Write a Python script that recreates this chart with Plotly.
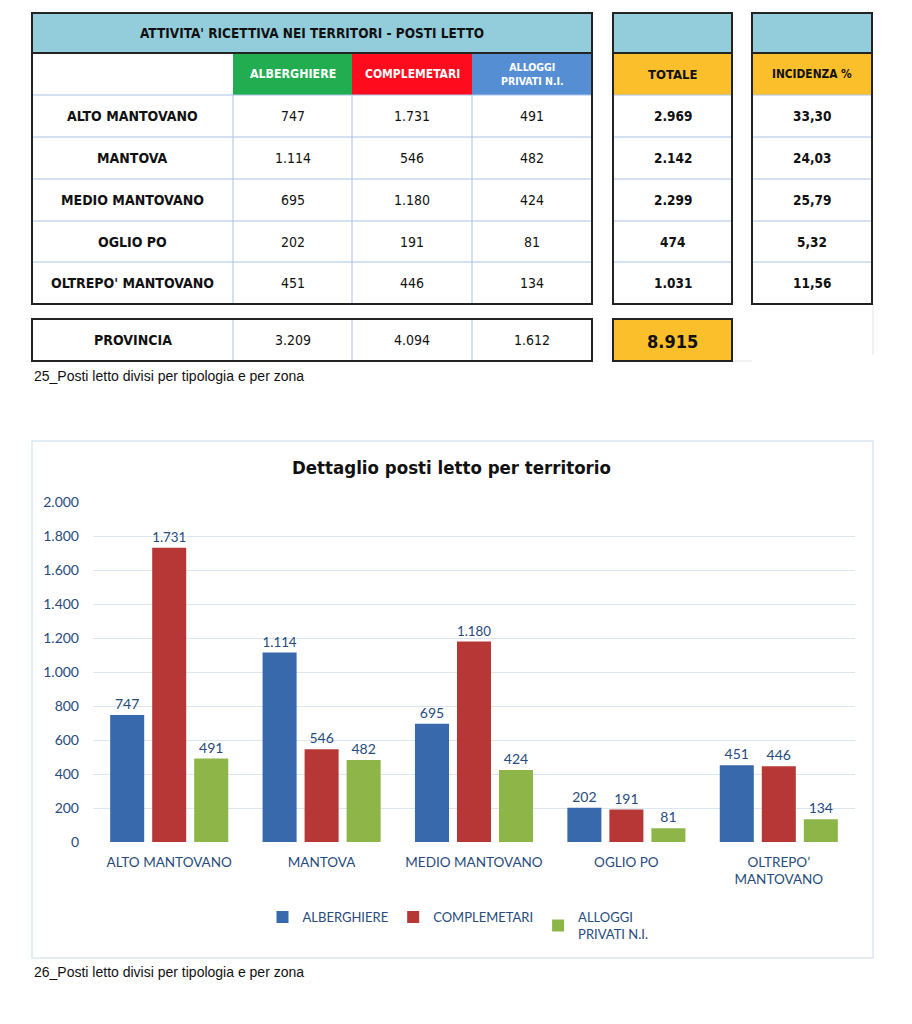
import plotly.graph_objects as go

# ---------------- DATA ----------------
territori = ["ALTO MANTOVANO", "MANTOVA", "MEDIO MANTOVANO", "OGLIO PO", "OLTREPO' MANTOVANO"]
territori_chart = ["ALTO MANTOVANO", "MANTOVA", "MEDIO MANTOVANO", "OGLIO PO", "OLTREPO’<br>MANTOVANO"]
alberghiere = [747, 1114, 695, 202, 451]
complementari = [1731, 546, 1180, 191, 446]
alloggi = [491, 482, 424, 81, 134]
totale = [2969, 2142, 2299, 474, 1031]
incidenza = [33.30, 24.03, 25.79, 5.32, 11.56]
provincia = [3209, 4094, 1612]
provincia_totale = 8915
serie_nomi = ["ALBERGHIERE", "COMPLEMETARI", "ALLOGGI<br>PRIVATI N.I."]
y_ticks = [0, 200, 400, 600, 800, 1000, 1200, 1400, 1600, 1800, 2000]

# ---------------- STYLE ----------------
W, H = 912, 1024
OFF = 8  # page offset of the plot div
NARROW = "DejaVu Sans Condensed, Liberation Sans, sans-serif"
REG = "Liberation Sans, Arial, sans-serif"
CHART_FONT = "Lato, Open Sans, sans-serif"
LBL = "#274B7A"
C_BLUE, C_RED, C_GREEN = "#3769AC", "#B73737", "#8DB548"
HDR_BLUE = "#93CDDC"
DARK = "#232323"
INNER = "#A9C3E5"


def px(x):
    return (x - OFF) / W


def py(y):
    return 1 - (y - OFF) / H


def fmt(v):
    return f"{v:,}".replace(",", ".")


def fmt_pct(v):
    return f"{v:.2f}".replace(".", ",")


shapes = []
annots = []


def rect(x0, y0, x1, y1, fill=None, line=None, lw=0, layer="above"):
    shapes.append(dict(type="rect", xref="paper", yref="paper",
                       x0=px(x0), x1=px(x1), y0=py(y1), y1=py(y0),
                       fillcolor=fill if fill else "rgba(0,0,0,0)",
                       line=dict(color=line if line else "rgba(0,0,0,0)", width=lw),
                       layer=layer))


def hline(x0, x1, y, color, lw=1):
    shapes.append(dict(type="line", xref="paper", yref="paper",
                       x0=px(x0), x1=px(x1), y0=py(y), y1=py(y),
                       line=dict(color=color, width=lw)))


def vline(x, y0, y1, color, lw=1):
    shapes.append(dict(type="line", xref="paper", yref="paper",
                       x0=px(x), x1=px(x), y0=py(y0), y1=py(y1),
                       line=dict(color=color, width=lw)))


def text(x, y, s, size=14, color="#111111", family=NARROW, bold=False, xanchor="center"):
    if bold:
        s = f"<b>{s}</b>"
    annots.append(dict(xref="paper", yref="paper", x=px(x), y=py(y), text=s,
                       showarrow=False, xanchor=xanchor, yanchor="middle",
                       font=dict(size=size, color=color, family=family)))


# ---------------- TABLE ----------------
cols = [32, 233, 352, 472, 592]
tot_blk = [613, 732]
inc_blk = [752, 872]
rows = [13, 53, 95, 137, 179, 221, 262, 304]
prov_y = [319, 361]

rect(cols[0], rows[0], cols[-1], rows[1], fill=HDR_BLUE)
rect(tot_blk[0], rows[0], tot_blk[1], rows[1], fill=HDR_BLUE)
rect(inc_blk[0], rows[0], inc_blk[1], rows[1], fill=HDR_BLUE)
hdr_fill = ["#21AD50", "#FE0B1E", "#568ED4"]
for i, c in enumerate(hdr_fill):
    rect(cols[i + 1], rows[1], cols[i + 2], rows[2], fill=c)
rect(tot_blk[0], rows[1], tot_blk[1], rows[2], fill="#FCBF2C")
rect(inc_blk[0], rows[1], inc_blk[1], rows[2], fill="#FCBF2C")
rect(tot_blk[0], prov_y[0], tot_blk[1], prov_y[1], fill="#FCBF2C")

for r in rows[2:-1]:
    hline(cols[0], cols[-1], r, INNER)
    hline(tot_blk[0], tot_blk[1], r, INNER)
    hline(inc_blk[0], inc_blk[1], r, INNER)
for c in cols[1:-1]:
    vline(c, rows[2], rows[-1], INNER)
    vline(c, prov_y[0], prov_y[1], INNER)
vline(873, rows[-1], 355, "#E4E4E4")
hline(tot_blk[1], 752, prov_y[1], "#E4E4E4")

for (a, b) in [(cols[0], cols[-1]), tot_blk, inc_blk]:
    rect(a, rows[0], b, rows[-1], line=DARK, lw=2)
    hline(a, b, rows[1], DARK, 2)
rect(cols[0], prov_y[0], cols[-1], prov_y[1], line=DARK, lw=2)
rect(tot_blk[0], prov_y[0], tot_blk[1], prov_y[1], line=DARK, lw=2)

text((cols[0] + cols[-1]) / 2, 33, "ATTIVITA' RICETTIVA NEI TERRITORI - POSTI LETTO", 13.5, bold=True)
hdr_labels = ["ALBERGHIERE", "COMPLEMETARI", "ALLOGGI<br>PRIVATI N.I."]
hdr_sizes = [12.3, 12, 10.5]
for i, lab in enumerate(hdr_labels):
    text((cols[i + 1] + cols[i + 2]) / 2, 74, lab, hdr_sizes[i], color="white", bold=True)
text(sum(tot_blk) / 2, 74, "TOTALE", 13, bold=True)
text(sum(inc_blk) / 2, 74, "INCIDENZA %", 11.8, bold=True)

series_tab = [alberghiere, complementari, alloggi]
for r, name in enumerate(territori):
    yc = (rows[r + 2] + rows[r + 3]) / 2
    text((cols[0] + cols[1]) / 2, yc, name, 14, bold=True)
    for s in range(3):
        text((cols[s + 1] + cols[s + 2]) / 2, yc, fmt(series_tab[s][r]), 14)
    text(sum(tot_blk) / 2, yc, fmt(totale[r]), 13.5, bold=True)
    text(sum(inc_blk) / 2, yc, fmt_pct(incidenza[r]), 13.5, bold=True)

yc = sum(prov_y) / 2
text((cols[0] + cols[1]) / 2, yc, "PROVINCIA", 14, bold=True)
for s in range(3):
    text((cols[s + 1] + cols[s + 2]) / 2, yc, fmt(provincia[s]), 14)
text(sum(tot_blk) / 2, yc + 1, fmt(provincia_totale), 18, bold=True)

text(32, 376, "25_Posti letto divisi per tipologia e per zona", 14, family=REG, xanchor="left")

# ---------------- CHART ----------------
rect(32, 441, 873, 958, line="#DCE6F2", lw=1.5, layer="below")
text(451, 467, "Dettaglio posti letto per territorio", 18.5, bold=True)
text(32, 972, "26_Posti letto divisi per tipologia e per zona", 14, family=REG, xanchor="left")

fig = go.Figure()
for name, vals, col in zip(serie_nomi, [alberghiere, complementari, alloggi], [C_BLUE, C_RED, C_GREEN]):
    fig.add_trace(go.Bar(
        name=name, x=territori_chart, y=vals,
        marker=dict(color=col, line=dict(width=0)),
        texttemplate="%{y:,}", textposition="outside", cliponaxis=False,
        textfont=dict(size=14, color=LBL, family=CHART_FONT),
        hoverinfo="skip",
    ))

fig.update_layout(
    width=W, height=H,
    autosize=False,
    margin=dict(l=0, r=0, t=0, b=0, pad=0, autoexpand=False),
    paper_bgcolor="white", plot_bgcolor="white",
    separators=",.",
    barmode="group", bargap=0.173, bargroupgap=0.19,
    shapes=shapes, annotations=annots,
    showlegend=True,
    legend=dict(orientation="h", x=px(458), y=py(902), xanchor="center", yanchor="top",
                font=dict(size=13, color=LBL, family=CHART_FONT),
                bgcolor="rgba(0,0,0,0)", traceorder="normal"),
    xaxis=dict(domain=[px(93), px(855)], showgrid=False, showline=False, ticks="",
               automargin=False, ticklabelstandoff=10,
               tickfont=dict(size=13.5, color=LBL, family=CHART_FONT), fixedrange=True),
    yaxis=dict(domain=[py(842), py(502)], range=[0, 2000], tickvals=y_ticks,
               tickformat=",", showgrid=True, gridcolor="#DCE6F2", gridwidth=1,
               zeroline=False, showline=False, ticks="", ticklabelstandoff=13,
               automargin=False,
               tickfont=dict(size=14, color=LBL, family=CHART_FONT), fixedrange=True),
)

fig.write_html("out.html")
